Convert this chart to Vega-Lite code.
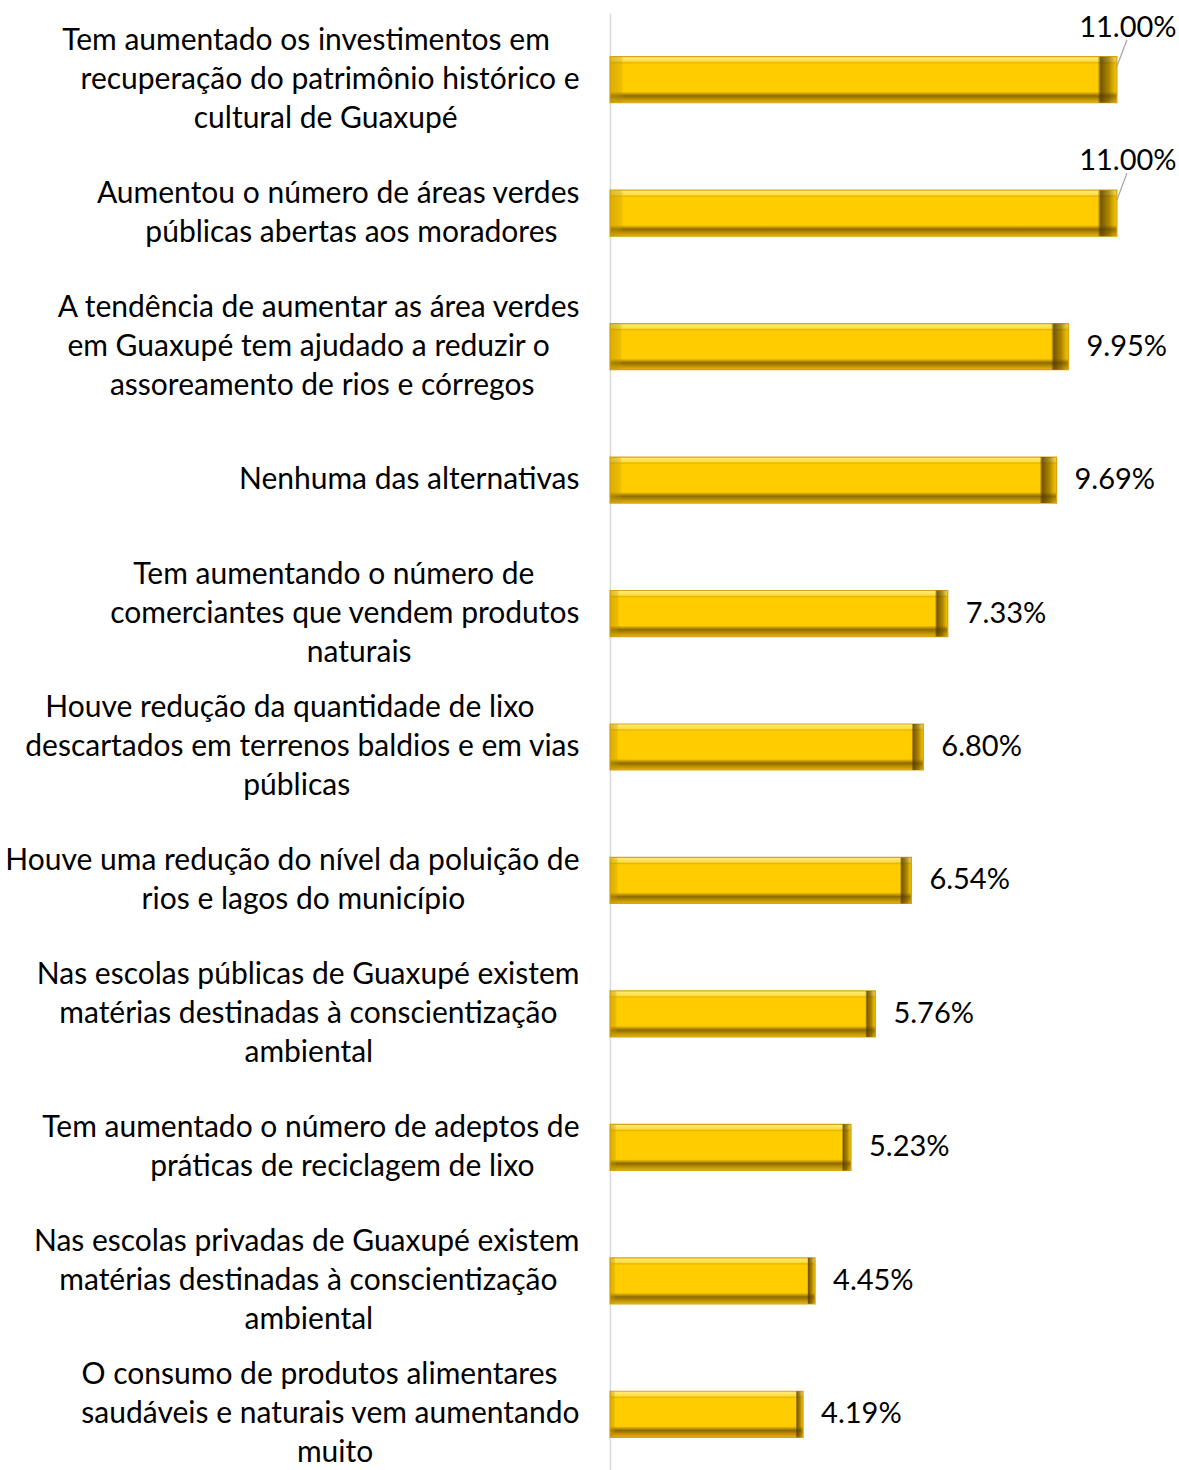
{
  "$schema": "https://vega.github.io/schema/vega-lite/v6.json",
  "autosize": "none",
  "width": 553,
  "height": 1468,
  "padding": {"left": 610, "top": 13, "right": 16, "bottom": 0},
  "background": "#ffffff",
  "config": {"view": {"stroke": null}, "font": "Lato"},
  "data": {"values": [
    {"label": "Tem aumentado os investimentos em|recuperação do patrimônio histórico e|cultural de Guaxupé", "value": 0.1100},
    {"label": "Aumentou o número de áreas verdes|públicas abertas aos moradores", "value": 0.1100},
    {"label": "A tendência de aumentar as área verdes|em Guaxupé tem ajudado a reduzir o|assoreamento de rios e córregos", "value": 0.0995},
    {"label": "Nenhuma das alternativas", "value": 0.0969},
    {"label": "Tem aumentando o número de|comerciantes que vendem produtos|naturais", "value": 0.0733},
    {"label": "Houve redução da quantidade de lixo|descartados em terrenos baldios e em vias|públicas", "value": 0.0680},
    {"label": "Houve uma redução do nível da poluição de|rios e lagos do município", "value": 0.0654},
    {"label": "Nas escolas públicas de Guaxupé existem|matérias destinadas à conscientização|ambiental", "value": 0.0576},
    {"label": "Tem aumentado o número de adeptos de|práticas de reciclagem de lixo", "value": 0.0523},
    {"label": "Nas escolas privadas de Guaxupé existem|matérias destinadas à conscientização|ambiental", "value": 0.0445},
    {"label": "O consumo de produtos alimentares|saudáveis e naturais vem aumentando|muito", "value": 0.0419}
  ]},
  "encoding": {
    "y": {
      "field": "label", "type": "nominal", "sort": null,
      "scale": {"paddingInner": 0.655, "paddingOuter": 0.3275},
      "axis": {
        "title": null, "ticks": false, "domainColor": "#D9D9D9", "domainWidth": 1.5,
        "labelFont": "Lato", "labelFontSize": 30, "labelColor": "#000000",
        "labelAlign": "right", "labelBaseline": "middle", "labelLineHeight": 39,
        "labelPadding": 31, "labelLimit": 0,
        "labelOffset": {"condition": [
          {"test": "length(split(datum.value,'|')) == 3", "value": -39},
          {"test": "length(split(datum.value,'|')) == 2", "value": -19.5}
        ], "value": 0},
        "labelExpr": "length(split(datum.label,'|')) == 3 ? [split(datum.label,'|')[0] + ((max(length(split(datum.label,'|')[0]), length(split(datum.label,'|')[1]), length(split(datum.label,'|')[2])) - length(split(datum.label,'|')[0])) > 0 ? substring('\u00a0\u00a0\u00a0\u00a0\u00a0\u00a0\u00a0\u00a0\u00a0\u00a0\u00a0\u00a0\u00a0\u00a0\u00a0\u00a0\u00a0\u00a0\u00a0\u00a0\u00a0\u00a0\u00a0\u00a0\u00a0\u00a0\u00a0\u00a0\u00a0\u00a0\u00a0\u00a0\u00a0\u00a0\u00a0\u00a0\u00a0\u00a0\u00a0\u00a0\u00a0\u00a0\u00a0\u00a0\u00a0\u00a0\u00a0\u00a0\u00a0\u00a0', 0, max(0, round((max(length(split(datum.label,'|')[0]), length(split(datum.label,'|')[1]), length(split(datum.label,'|')[2])) - length(split(datum.label,'|')[0])) * 0.908 - 2.9))) + '\u2800' : ''), split(datum.label,'|')[1] + ((max(length(split(datum.label,'|')[0]), length(split(datum.label,'|')[1]), length(split(datum.label,'|')[2])) - length(split(datum.label,'|')[1])) > 0 ? substring('\u00a0\u00a0\u00a0\u00a0\u00a0\u00a0\u00a0\u00a0\u00a0\u00a0\u00a0\u00a0\u00a0\u00a0\u00a0\u00a0\u00a0\u00a0\u00a0\u00a0\u00a0\u00a0\u00a0\u00a0\u00a0\u00a0\u00a0\u00a0\u00a0\u00a0\u00a0\u00a0\u00a0\u00a0\u00a0\u00a0\u00a0\u00a0\u00a0\u00a0\u00a0\u00a0\u00a0\u00a0\u00a0\u00a0\u00a0\u00a0\u00a0\u00a0', 0, max(0, round((max(length(split(datum.label,'|')[0]), length(split(datum.label,'|')[1]), length(split(datum.label,'|')[2])) - length(split(datum.label,'|')[1])) * 0.908 - 2.9))) + '\u2800' : ''), split(datum.label,'|')[2] + ((max(length(split(datum.label,'|')[0]), length(split(datum.label,'|')[1]), length(split(datum.label,'|')[2])) - length(split(datum.label,'|')[2])) > 0 ? substring('\u00a0\u00a0\u00a0\u00a0\u00a0\u00a0\u00a0\u00a0\u00a0\u00a0\u00a0\u00a0\u00a0\u00a0\u00a0\u00a0\u00a0\u00a0\u00a0\u00a0\u00a0\u00a0\u00a0\u00a0\u00a0\u00a0\u00a0\u00a0\u00a0\u00a0\u00a0\u00a0\u00a0\u00a0\u00a0\u00a0\u00a0\u00a0\u00a0\u00a0\u00a0\u00a0\u00a0\u00a0\u00a0\u00a0\u00a0\u00a0\u00a0\u00a0', 0, max(0, round((max(length(split(datum.label,'|')[0]), length(split(datum.label,'|')[1]), length(split(datum.label,'|')[2])) - length(split(datum.label,'|')[2])) * 0.908 - 2.9))) + '\u2800' : '')] : length(split(datum.label,'|')) == 2 ? [split(datum.label,'|')[0] + ((max(length(split(datum.label,'|')[0]), length(split(datum.label,'|')[1])) - length(split(datum.label,'|')[0])) > 0 ? substring('\u00a0\u00a0\u00a0\u00a0\u00a0\u00a0\u00a0\u00a0\u00a0\u00a0\u00a0\u00a0\u00a0\u00a0\u00a0\u00a0\u00a0\u00a0\u00a0\u00a0\u00a0\u00a0\u00a0\u00a0\u00a0\u00a0\u00a0\u00a0\u00a0\u00a0\u00a0\u00a0\u00a0\u00a0\u00a0\u00a0\u00a0\u00a0\u00a0\u00a0\u00a0\u00a0\u00a0\u00a0\u00a0\u00a0\u00a0\u00a0\u00a0\u00a0', 0, max(0, round((max(length(split(datum.label,'|')[0]), length(split(datum.label,'|')[1])) - length(split(datum.label,'|')[0])) * 0.908 - 2.9))) + '\u2800' : ''), split(datum.label,'|')[1] + ((max(length(split(datum.label,'|')[0]), length(split(datum.label,'|')[1])) - length(split(datum.label,'|')[1])) > 0 ? substring('\u00a0\u00a0\u00a0\u00a0\u00a0\u00a0\u00a0\u00a0\u00a0\u00a0\u00a0\u00a0\u00a0\u00a0\u00a0\u00a0\u00a0\u00a0\u00a0\u00a0\u00a0\u00a0\u00a0\u00a0\u00a0\u00a0\u00a0\u00a0\u00a0\u00a0\u00a0\u00a0\u00a0\u00a0\u00a0\u00a0\u00a0\u00a0\u00a0\u00a0\u00a0\u00a0\u00a0\u00a0\u00a0\u00a0\u00a0\u00a0\u00a0\u00a0', 0, max(0, round((max(length(split(datum.label,'|')[0]), length(split(datum.label,'|')[1])) - length(split(datum.label,'|')[1])) * 0.908 - 2.9))) + '\u2800' : '')] : datum.label"
      }
    }
  },
  "layer": [
    {
      "mark": {
        "type": "bar", "stroke": "#D9A514", "strokeWidth": 1.2,
        "color": {"gradient": "linear", "x1": 0, "y1": 0, "x2": 0, "y2": 1, "stops": [
          {"offset": 0, "color": "#FFEE80"},
          {"offset": 0.1, "color": "#FFDC40"},
          {"offset": 0.13, "color": "#E6B600"},
          {"offset": 0.16, "color": "#FFCC00"},
          {"offset": 0.76, "color": "#FFCC00"},
          {"offset": 0.79, "color": "#D9AA00"},
          {"offset": 0.85, "color": "#8C6A00"},
          {"offset": 0.93, "color": "#C09400"},
          {"offset": 1, "color": "#E6B410"}
        ]}
      },
      "encoding": {
        "x": {"field": "value", "type": "quantitative", "scale": {"domain": [0, 0.12], "nice": false}, "axis": null}
      }
    },
    {
      "mark": {
        "type": "bar",
        "color": {"gradient": "linear", "x1": 0, "y1": 0, "x2": 1, "y2": 0, "stops": [
          {"offset": 0, "color": "rgba(190,150,0,0.55)"},
          {"offset": 0.022, "color": "rgba(190,150,0,0.3)"},
          {"offset": 0.027, "color": "rgba(190,150,0,0)"},
          {"offset": 0.962, "color": "rgba(80,55,0,0)"},
          {"offset": 0.968, "color": "rgba(80,55,0,0.8)"},
          {"offset": 0.985, "color": "rgba(110,80,0,0.55)"},
          {"offset": 1, "color": "rgba(200,160,0,0.2)"}
        ]}
      },
      "encoding": {
        "x": {"field": "value", "type": "quantitative"}
      }
    },
    {
      "transform": [{"filter": "datum.value < 0.11"}],
      "mark": {"type": "text", "align": "left", "baseline": "middle", "dx": 18, "font": "Lato", "fontSize": 29, "color": "#000000"},
      "encoding": {
        "x": {"field": "value", "type": "quantitative"},
        "text": {"field": "value", "type": "quantitative", "format": ".2%"}
      }
    },
    {
      "transform": [{"filter": "datum.value >= 0.11"}],
      "mark": {"type": "text", "align": "center", "baseline": "middle", "dx": 11, "dy": -52, "font": "Lato", "fontSize": 29, "color": "#000000"},
      "encoding": {
        "x": {"field": "value", "type": "quantitative"},
        "text": {"field": "value", "type": "quantitative", "format": ".2%"}
      }
    },
    {
      "transform": [{"filter": "datum.value >= 0.11"}],
      "mark": {"type": "point", "shape": "M0,-0.33L0.25,-1", "filled": false, "stroke": "#A6A6A6", "strokeWidth": 1.2, "size": 6400, "opacity": 1},
      "encoding": {
        "x": {"field": "value", "type": "quantitative"}
      }
    }
  ]
}
